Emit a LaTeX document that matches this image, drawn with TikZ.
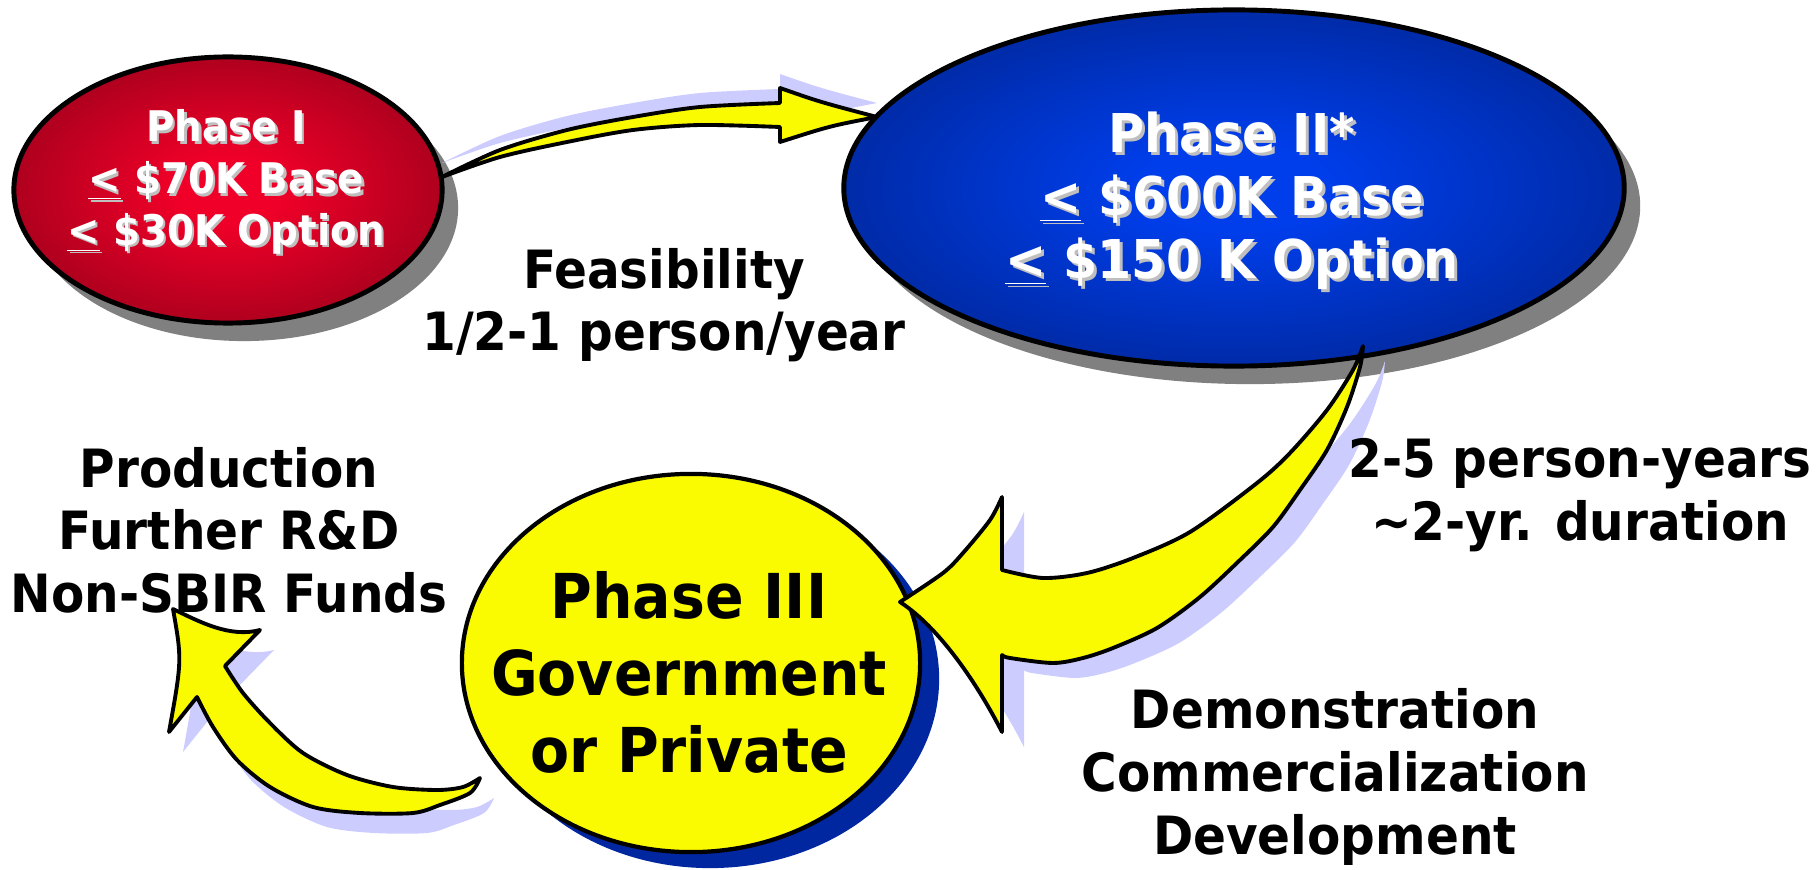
\documentclass[tikz,border=0pt]{standalone}
\usepackage{fontspec}
\setmainfont[FakeStretch=0.92]{DejaVu Sans}
\usetikzlibrary{shapes.geometric,shadows}
\definecolor{redhot}{RGB}{240,0,40}
\definecolor{reddeep}{RGB}{90,0,18}
\definecolor{bluehot}{RGB}{0,62,235}
\definecolor{bluedeep}{RGB}{0,18,80}
\definecolor{lavender}{RGB}{204,204,255}
\definecolor{shadowgray}{RGB}{128,128,128}
\definecolor{deepblue}{RGB}{0,38,160}
\definecolor{arrowyellow}{RGB}{250,250,0}
\pgfdeclareradialshading{redglow}{\pgfpoint{0bp}{0bp}}{color(0bp)=(redhot); color(6bp)=(redhot); color(50bp)=(reddeep)}
\pgfdeclareradialshading{blueglow}{\pgfpoint{0bp}{0bp}}{color(0bp)=(bluehot); color(6bp)=(bluehot); color(50bp)=(bluedeep)}
\newcommand{\uless}{\underline{<}}
\begin{document}
\begin{tikzpicture}[x=.01cm,y=-.01cm,
    phase/.style={ellipse,draw=black,line width=1.4pt,inner sep=0pt},
    grayshadow/.style={drop shadow={shadow xshift=.16cm,shadow yshift=-.18cm,fill=shadowgray,opacity=1}},
    blockarrow/.style={fill=arrowyellow,draw=black,line width=1.1pt,line join=round},
    arrowshade/.style={fill=lavender,draw=none},
    m/.style={font=\bfseries\fontsize{15}{17.8}\selectfont,align=center,inner sep=0pt},
    money/.style={text=white,align=center,inner sep=0pt},
    moneyshade/.style={text=black!25,align=center,inner sep=0pt}]
  \useasboundingbox (0,0) rectangle (1820,870);
  % the three phases
  \node[phase,grayshadow,shade,shading=redglow,minimum width=4.28cm,minimum height=2.66cm] (p1) at (228,190) {};
  \node[phase,grayshadow,shade,shading=blueglow,minimum width=7.8cm,minimum height=3.56cm] (p2) at (1234,188) {};
  \node[phase,line width=1.2pt,fill=arrowyellow,drop shadow={shadow xshift=.19cm,shadow yshift=-.16cm,fill=deepblue,opacity=1},minimum width=4.58cm,minimum height=3.78cm] (p3) at (691,663) {};
  % block arrows
  \draw[blockarrow,preaction={arrowshade,transform canvas={shift={(0,-14)}}}]
    plot[smooth] coordinates {(442,177) (500,150) (567,130) (633,117) (700,107) (780,103)}
    -- (780,88) .. controls (820,102) .. (877,117) .. controls (830,126) .. (780,142) -- (780,127)
    -- plot[smooth] coordinates {(780,127) (700,125) (633,130) (567,142) (500,157) (442,177)} -- cycle;
  \draw[blockarrow,preaction={arrowshade,transform canvas={shift={(22,15)}}}]
    plot[smooth] coordinates {(1363,346) (1360,367) (1347,407) (1327,450) (1300,490) (1273,527) (1240,560) (1200,597) (1157,628) (1113,648) (1083,658) (1053,663) (1010,658) (1002,655)}
    -- (1002,732) .. controls (978,685) and (940,628) .. (900,602)
    -- plot[smooth] coordinates {(900,602) (943,573) (963,553) (990,520) (1002,497)}
    -- (1002,570)
    -- plot[smooth] coordinates {(1002,570) (1043,578) (1087,573) (1133,558) (1190,532) (1257,483) (1290,453) (1327,410) (1353,370) (1363,346)} -- cycle;
  \draw[blockarrow,preaction={arrowshade,transform canvas={shift={(14,20)}}}]
    plot[smooth] coordinates {(480,778) (463,787) (437,790) (393,787) (347,775) (303,753) (270,723) (243,693) (225,666)}
    -- (260,630) .. controls (230,638) and (200,622) .. (173,609)
    .. controls (182,660) .. (169,732) -- (197,697)
    -- plot[smooth] coordinates {(197,697) (213,727) (237,760) (270,787) (313,807) (360,813) (413,813) (440,805) (470,793) (480,778)} -- cycle;
  % texts
  \node[moneyshade,font=\bfseries\fontsize{12}{14.7}\selectfont] (p1shade) at (228.5,184.5) {Phase I\\\uless{} \$70K Base\\\uless{} \$30K Option};
  \node[money,font=\bfseries\fontsize{12}{14.7}\selectfont] (p1text) at (226,182) {Phase I\\\uless{} \$70K Base\\\uless{} \$30K Option};
  \node[moneyshade,font=\bfseries\fontsize{15.2}{17.9}\selectfont] (p2shade) at (1235,204) {Phase II*\\\uless{} \$600K Base\\\uless{} \$150 K Option};
  \node[money,font=\bfseries\fontsize{15.2}{17.9}\selectfont] (p2text) at (1232,201) {Phase II*\\\uless{} \$600K Base\\\uless{} \$150 K Option};
  \node[m,font=\bfseries\fontsize{17.6}{21.9}\selectfont] (p3text) at (689,672) {Phase III\\Government\\or Private};
  \node[m] (feas) at (664,305) {Feasibility\\1/2-1 person/year};
  \node[m] (effort) at (1580,495) {2-5 person-years\\\textasciitilde 2-yr. duration};
  \node[m] (demo) at (1335,777) {Demonstration\\Commercialization\\Development};
  \node[m] (beyond) at (229,530) {Production\\Further R\&D\\Non-SBIR Funds};
\end{tikzpicture}
\end{document}
